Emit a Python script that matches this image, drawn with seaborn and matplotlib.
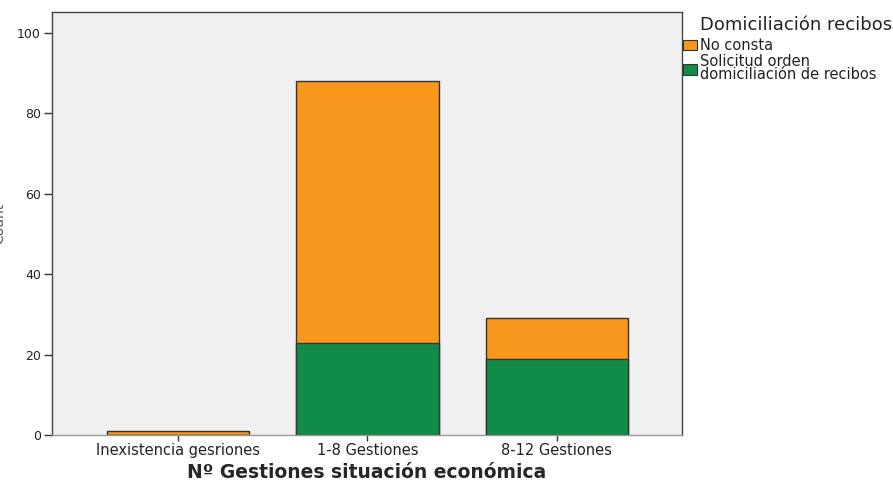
import pandas as pd
import numpy as np
import matplotlib
matplotlib.use("Agg")
import matplotlib.pyplot as plt
import seaborn as sns
from matplotlib.patches import Patch

# data
categorias = ["Inexistencia gesriones", "1-8 Gestiones", "8-12 Gestiones"]
no_consta = [1, 65, 10]
solicitud = [0, 23, 19]

ORANGE = "#F7981D"
GREEN = "#118C48"

df = pd.DataFrame({
    "grupo": categorias,
    "no_consta": no_consta,
    "solicitud": solicitud,
})
df["total"] = df["no_consta"] + df["solicitud"]

sns.set_style("white")
plt.rcParams["font.family"] = ["DejaVu Sans"]

fig = plt.figure(figsize=(8.93, 4.82), dpi=100)
ax = fig.add_axes([0.0582, 0.0975, 0.7055, 0.8775])
ax.set_facecolor("#F0F0F0")

# stacked: total in orange, green drawn over it from zero
sns.barplot(data=df, x="grupo", y="total", color=ORANGE, width=0.75,
            edgecolor="#333333", linewidth=1, saturation=1, ax=ax)
sns.barplot(data=df, x="grupo", y="solicitud", color=GREEN, width=0.75,
            edgecolor="#333333", linewidth=1, saturation=1, ax=ax)

ax.set_xlim(-0.665, 2.66)
ax.set_ylim(0, 105.2)
ax.set_yticks([0, 20, 40, 60, 80, 100])
ax.tick_params(axis="y", direction="out", length=6, width=1, color="#333333",
               labelsize=9, labelcolor="#222222", pad=2, left=True)
ax.tick_params(axis="x", direction="out", length=4, width=1, color="#333333",
               labelsize=10.5, labelcolor="#222222", pad=2, bottom=True)

for side, sp in ax.spines.items():
    sp.set_visible(True)
    sp.set_linewidth(1)
    sp.set_color("#444444")
ax.spines["bottom"].set_color("#999999")

ax.set_xlabel("Nº Gestiones situación económica", fontsize=13.5,
              fontweight="bold", labelpad=3)
# the reference shows this label cut at the left edge
ax.set_ylabel("Count", fontsize=10, color="#555555")
ax.yaxis.set_label_coords(-0.073, 0.5)

# legend
fig.text(700 / 893, 1 - 25 / 482, "Domiciliación recibos", fontsize=13,
         ha="left", va="center", color="#222222")
handles = [Patch(facecolor=ORANGE, edgecolor="#333333", linewidth=0.8),
           Patch(facecolor=GREEN, edgecolor="#333333", linewidth=0.8)]
leg = fig.legend(handles, ["No consta", "Solicitud orden\ndomiciliación de recibos"],
                 loc="upper left", bbox_to_anchor=(683 / 893, 1 - 38 / 482),
                 frameon=False, fontsize=10.5, handlelength=0.95, handleheight=0.75,
                 handletextpad=0.2, labelspacing=0.1, borderpad=0.0,
                 borderaxespad=0.0)
for t in leg.get_texts():
    t.set_linespacing(0.8)
    t.set_color("#222222")

fig.savefig("out.png", dpi=100)
